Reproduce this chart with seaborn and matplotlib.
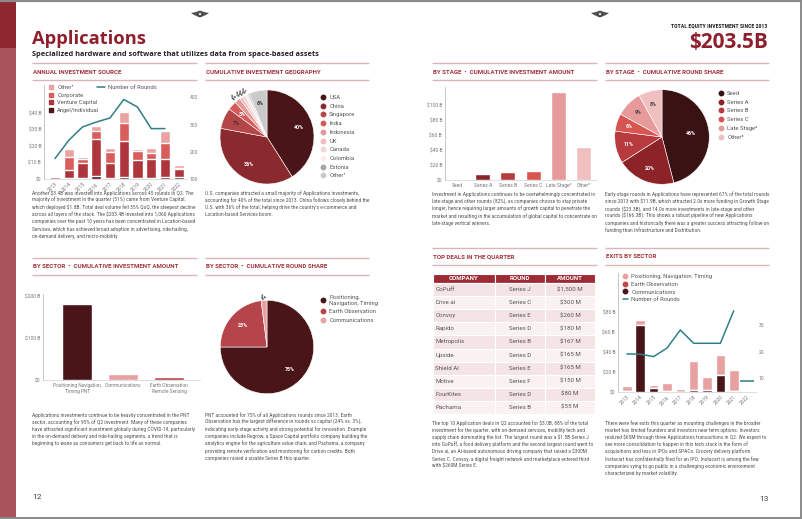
import numpy as np
import matplotlib
matplotlib.use("Agg")
import matplotlib.pyplot as plt
import seaborn as sns
from matplotlib import font_manager
from matplotlib.lines import Line2D
from matplotlib.patches import Rectangle, Circle, Polygon
from matplotlib.table import Table
from matplotlib.font_manager import FontProperties

# ── Data ────────────────────────────────────────────────────────────────────
years = ["2013", "2014", "2015", "2016", "2017", "2018", "2019", "2020", "2021", "2022"]
src_angel = [0.3, 0.4, 0.4, 2.0, 0.4, 1.4, 0.4, 0.4, 1.0, 1.4]
src_vc = [1.1, 5.0, 9.6, 22.0, 9.6, 21.8, 11.0, 12.0, 11.4, 4.6]
src_corporate = [0.0, 8.0, 2.4, 5.0, 6.4, 10.6, 5.4, 3.6, 9.6, 0.8]
src_other = [0.0, 4.6, 1.0, 3.4, 2.4, 7.0, 1.2, 3.0, 7.0, 1.6]
src_rounds = [175, 242, 291, 309, 324, 392, 364, 285, 285, np.nan]

geo_labels = ["USA", "China", "Singapore", "India", "Indonesia", "UK", "Canada",
              "Colombia", "Estonia", "Other¹"]
geo_share = [40, 36, 7, 3, 2, 1, 1, 1, 0.5, 6]

stages = ["Seed", "Series A", "Series B", "Series C", "Late Stage²", "Other³"]
stage_amount = [1.5, 8.5, 10.3, 12.5, 118, 45]
stage_round_share = [46, 20, 11, 6, 9, 8]

sectors = ["Positioning Navigation,\nTiming PNT", "Communications",
           "Earth Observation\nRemote Sensing"]
sector_amount = [182, 14, 7.5]
sector_round_labels = ["Positioning,\nNavigation, Timing", "Earth Observation", "Communications"]
sector_round_share = [75, 23, 2]

deal_company = ["GoPuff", "Drive.ai", "Convoy", "Rapido", "Metropolis", "Upside",
                "Shield AI", "Motive", "FourKites", "Pachama"]
deal_round = ["Series J", "Series C", "Series E", "Series D", "Series B", "Series D",
              "Series E", "Series F", "Series D", "Series B"]
deal_amount = ["$1,500 M", "$300 M", "$260 M", "$180 M", "$167 M", "$165 M",
               "$165 M", "$150 M", "$80 M", "$55 M"]

exit_pnt = [5.0, 5.3, 2.7, 8.3, 3.3, 29.3, 13.0, 20.6, 21.0, 0.0]
exit_eo = [0.5, 0.0, 0.0, 0.0, 0.0, 0.0, 0.0, 0.0, 0.0, 0.0]
exit_comm = [1.0, 66.7, 4.0, 1.0, 0.0, 1.7, 1.7, 16.7, 0.7, 0.7]
exit_rounds = [19.1, 19.0, 18.1, 21.3, 28.1, 23.1, 23.1, 23.1, 35.3, 8.8]

paragraphs = [
    (32, 194.5, 164, "Another $3.4B was invested into Applications across 45 rounds in Q2. The "
     "majority of investment in the quarter (51%) came from Venture Capital, which deployed "
     "$1.8B.  Total deal volume fell 35% QoQ, the steepest decline across all layers of the "
     "stack. The $203.4B invested into 1,060 Applications companies over the past 10 years has "
     "been concentrated in Location-based Services, which has achieved broad adoption in "
     "advertising, ride-hailing, on-demand delivery, and micro-mobility."),
    (205, 194.5, 165, "U.S. companies attracted a small majority of Applications investments, "
     "accounting for 40% of the total since 2013. China follows closely behind the U.S. with 36% "
     "of the total, helping drive the country's e-commerce and Location-based Services boom."),
    (432, 196, 165, "Investment in Applications continues to be overwhelmingly concentrated in "
     "late-stage and other rounds (82%), as companies choose to stay private longer, hence "
     "requiring larger amounts of growth capital to penetrate the market and resulting in the "
     "accumulation of global capital to concentrate on late-stage vertical winners."),
    (605, 196, 165, "Early-stage rounds in Applications have represented 67% of the total rounds "
     "since 2013 with $11.9B, which attracted 2.0x more funding in Growth Stage rounds ($23.3B), "
     "and 14.0x more investments in late-stage and other rounds ($166.3B). This shows a robust "
     "pipeline of new Applications companies and historically there was a greater success "
     "attracting follow-on funding than Infrastructure and Distribution."),
    (32, 416.5, 164, "Applications investments continue to be heavily concentrated in the PNT "
     "sector, accounting for 95% of Q2 investment. Many of these companies have attracted "
     "significant investment globally during COVID-19, particularly in the on-demand delivery and "
     "ride-hailing segments, a trend that is beginning to wane as consumers get back to life as normal."),
    (205, 416.5, 165, "PNT accounted for 75% of all Applications rounds since 2013. Earth "
     "Observation has the largest difference in rounds vs capital (24% vs. 3%), indicating "
     "early-stage activity and strong potential for innovation. Example companies include Regrow, "
     "a Space Capital portfolio company building the analytics engine for the agriculture value "
     "chain, and Pachama, a company providing remote verification and monitoring for carbon "
     "credits. Both companies raised a sizable Series B this quarter."),
    (432, 424.5, 165, "The top 10 Application deals in Q2 accounted for $3.0B, 88% of the total "
     "investment for the quarter, with on-demand services, mobility tech and supply chain "
     "dominating the list. The largest round was a $1.5B Series J into GoPuff, a food delivery "
     "platform and the second largest round went to Drive.ai, an AI-based autonomous driving "
     "company that raised a $300M Series C. Convoy, a digital freight network and marketplace "
     "entered third with $260M Series E."),
    (605, 424.5, 165, "There were few exits this quarter as mounting challenges in the broader "
     "market has limited founders and investors near term options. Investors realized $65M "
     "through three Applications transactions in Q2. We expect to see more consolidation to "
     "happen in this tech stack in the form of acquisitions and less in IPOs and SPACs. Grocery "
     "delivery platform Instacart has confidentially filed for an IPO. Instacart is among the few "
     "companies vying to go public in a challenging economic environment characterized by market "
     "volatility."),
]

# ── Palette ─────────────────────────────────────────────────────────────────
RED = "#8e1f2c"
HEAD = "#a3303c"
RULE = "#d8b6b9"
TEAL = "#2f7f86"
INK = "#555555"
TICK = "#777777"

sns.set_theme(style="white")
plt.rcParams["font.family"] = ["Roboto", "DejaVu Sans"]

installed = {f.name for f in font_manager.fontManager.ttflist}
BODY_FAMILY = next((f for f in ["Roboto Condensed", "Liberation Sans Narrow", "Roboto"]
                    if f in installed), "DejaVu Sans")

W, H = 802, 519
fig = plt.figure(figsize=(W / 100, H / 100), dpi=100, facecolor="white")
bg = fig.add_axes([0, 0, 1, 1])
bg.set_xlim(0, W)
bg.set_ylim(H, 0)
bg.axis("off")
renderer = fig.canvas.get_renderer()


def add_ax(x0, y0, x1, y1):
    return fig.add_axes([x0 / W, 1 - y1 / H, (x1 - x0) / W, (y1 - y0) / H])


def fpos(x, y):
    return (x / W, 1 - y / H)


def fit_size(s, family, weight, target, base=4.0):
    fp = FontProperties(family=family, weight=weight, size=base)
    return base * target / renderer.get_text_width_height_descent(s, fp, ismath=False)[0]


# size the body font so the reference's first line fills its column
BODY = FontProperties(family=BODY_FAMILY, size=fit_size(
    "Another $3.4B was invested into Applications across 45 rounds in Q2. The",
    BODY_FAMILY, "normal", 160))


def text_w(s):
    return renderer.get_text_width_height_descent(s, BODY, ismath=False)[0]


def paragraph(x, y, width, txt, pitch=7.2):
    lines, cur = [], []
    for w in txt.split():
        if cur and text_w(" ".join(cur + [w])) > width:
            lines.append(cur)
            cur = [w]
        else:
            cur.append(w)
    lines.append(cur)
    for i, ln in enumerate(lines):
        bg.text(x, y + i * pitch, " ".join(ln).replace("$", r"\$"), fontproperties=BODY,
                color=INK, va="baseline")


def style_axis(ax):
    sns.despine(ax=ax, top=True, right=True)
    ax.spines["left"].set_color("#bdbdbd")
    ax.spines["bottom"].set_color("#d0d0d0")
    ax.spines["left"].set_linewidth(0.6)
    ax.spines["bottom"].set_linewidth(0.5)
    ax.tick_params(length=0, labelsize=3.6, colors=TICK, pad=2)
    ax.set_xlabel("")
    ax.set_ylabel("")
    ax.set_facecolor("none")


def dot_legend(x, y, labels, colors, marker="o", ms=3.2, spacing=0.55, extra=None):
    handles = [Line2D([], [], ls="", marker=marker, color=c, markersize=ms) for c in colors]
    if extra:
        handles += extra[0]
        labels = labels + extra[1]
    fig.legend(handles, labels, loc="upper left", bbox_to_anchor=fpos(x, y), frameon=False,
               fontsize=4.2, labelcolor="#555", handlelength=0.8, handletextpad=0.6,
               labelspacing=spacing, borderpad=0, borderaxespad=0)


# ── Page furniture ──────────────────────────────────────────────────────────
bg.plot([0, W], [0.8, 0.8], color="#8a8a8a", lw=1.6)
bg.plot([0, W], [H - 1, H - 1], color="#8a8a8a", lw=1.4)
bg.plot([W - 1.2, W - 1.2], [0, H], color="#8a8a8a", lw=1.4)
bg.add_patch(Rectangle((0, 0), 16, 48, color="#8f2731", lw=0))
bg.add_patch(Rectangle((0, 48), 16, H - 49, color="#a9545c", lw=0))
for cx in (200, 600):
    bg.add_patch(Polygon([[cx - 9, 13], [cx - 2, 11.5], [cx - 2, 16.5], [cx - 6, 15]], color="#555", lw=0))
    bg.add_patch(Polygon([[cx + 9, 13], [cx + 2, 11.5], [cx + 2, 16.5], [cx + 6, 15]], color="#555", lw=0))
    bg.add_patch(Circle((cx, 14), 3.3, color="#444", lw=0))
    bg.add_patch(Circle((cx, 14), 1.3, color="#ddd", lw=0))

TITLE_FAMILY = "Open Sans" if "Open Sans" in installed else "DejaVu Sans"
bg.text(32, 43.5, "Applications", color=RED,
        fontsize=fit_size("Applications", TITLE_FAMILY, "bold", 112),
        fontweight="bold", family=TITLE_FAMILY, va="baseline")
sub = "Specialized hardware and software that utilizes data from space-based assets"
bg.text(32, 55.5, sub, color="#222", fontsize=fit_size(sub, TITLE_FAMILY, "bold", 282),
        fontweight="bold", family=TITLE_FAMILY, va="baseline")
kicker = "TOTAL EQUITY INVESTMENT SINCE 2013"
bg.text(767, 27, kicker, color="#222", fontsize=fit_size(kicker, BODY_FAMILY, "bold", 95),
        fontweight="bold", family=BODY_FAMILY, ha="right", va="baseline")
bg.text(768, 48.5, "$203.5B", color=RED,
        fontsize=fit_size("$203.5B", TITLE_FAMILY, "bold", 79),
        fontweight="bold", family=TITLE_FAMILY, ha="right", va="baseline")
bg.text(32, 499, "12", color="#444", fontsize=6, va="baseline")
bg.text(769, 501, "13", color="#444", fontsize=6, ha="right", va="baseline")

headers = [
    ("ANNUAL INVESTMENT SOURCE", 32, 197, 72),
    ("CUMULATIVE INVESTMENT GEOGRAPHY", 205, 369, 72),
    ("BY STAGE  •  CUMULATIVE INVESTMENT AMOUNT", 432, 597, 72),
    ("BY STAGE  •  CUMULATIVE ROUND SHARE", 605, 769, 72),
    ("BY SECTOR  •  CUMULATIVE INVESTMENT AMOUNT", 32, 197, 267),
    ("BY SECTOR  •  CUMULATIVE ROUND SHARE", 205, 369, 267),
    ("TOP DEALS IN THE QUARTER", 432, 597, 257),
    ("EXITS BY SECTOR", 605, 769, 257),
]
for label, x0, x1, yc in headers:
    bg.plot([x0, x1], [yc - 9, yc - 9], color=RULE, lw=1.0, solid_capstyle="butt")
    bg.plot([x0, x1], [yc + 8, yc + 8], color=RULE, lw=1.0, solid_capstyle="butt")
    bg.text(x0 + 1, yc, label, color=HEAD, fontsize=4.4, fontweight="bold", va="center")

for x, y, w, txt in paragraphs:
    paragraph(x, y, w, txt)

# ── Annual investment source ────────────────────────────────────────────────
SRC_COLORS = ["#4b1519", "#ae353c", "#d95d5a", "#e9a3a3"]
ax1 = add_ax(44, 85, 187, 179)
layers = np.cumsum([src_angel, src_vc, src_corporate, src_other], axis=0)
for cum, col in reversed(list(zip(layers, SRC_COLORS))):
    sns.barplot(x=years, y=cum, color=col, saturation=1, width=0.75, errorbar=None, ax=ax1)
ax1.set_xlim(-0.8, 9.6)
ax1.set_ylim(0, 57)
ax1.set_yticks([0, 10, 20, 30, 40])
ax1.set_yticklabels(["$0", "$10 B", "$20 B", "$30 B", "$40 B"])
style_axis(ax1)
plt.setp(ax1.get_xticklabels(), rotation=45, ha="right", rotation_mode="anchor")
ax1b = ax1.twinx()
sns.lineplot(x=np.arange(len(years)), y=src_rounds, color=TEAL, lw=1.1, ax=ax1b)
ax1b.set_ylim(100, 445)
ax1b.set_yticks([100, 200, 300, 400])
ax1b.tick_params(length=0, labelsize=3.6, colors=TICK, pad=2)
for s in ax1b.spines.values():
    s.set_visible(False)
ax1b.set_ylabel("")
dot_legend(49, 85, ["Other¹", "Corporate", "Venture Capital", "Angel/Individual"],
           SRC_COLORS[::-1], marker="s", ms=3.0, spacing=0.45)
fig.legend([Line2D([], [], color=TEAL, lw=1.1)], ["Number of Rounds"], loc="upper left",
           bbox_to_anchor=fpos(97, 85), frameon=False, fontsize=4.2, labelcolor="#555",
           handlelength=1.3, handletextpad=0.6, borderpad=0, borderaxespad=0)


# ── Pie helper ──────────────────────────────────────────────────────────────
def pie(cx, cy, r, values, colors, label_fmt):
    ax = add_ax(cx - 1.3 * r, cy - 1.3 * r, cx + 1.3 * r, cy + 1.3 * r)
    wedges, _ = ax.pie(values, colors=colors, startangle=90, counterclock=False,
                       wedgeprops=dict(edgecolor="white", linewidth=0.4))
    ax.set_xlim(-1.3, 1.3)
    ax.set_ylim(-1.3, 1.3)
    ax.set_aspect("equal")
    for w, v in zip(wedges, values):
        spec = label_fmt(v, w)
        if spec is None:
            continue
        rr, col = spec
        ang = np.deg2rad((w.theta1 + w.theta2) / 2)
        x, y = rr * np.cos(ang), rr * np.sin(ang)
        if rr > 1:
            rot = np.rad2deg(ang) - 180 if np.cos(ang) < 0 else np.rad2deg(ang)
            ax.text(x, y, f"{v:.0f}%", color=col, fontsize=3.6, fontweight="bold",
                    ha="center", va="center", rotation=rot * 0.5, clip_on=False)
        else:
            ax.text(x, y, f"{v:.0f}%", color=col, fontsize=3.8, fontweight="bold",
                    ha="center", va="center")
    return ax


GEO_COLORS = ["#4a1518", "#8b2a2e", "#b54648", "#d55b5b", "#e39a9a", "#efbdbd",
              "#f5d6d6", "#fbeded", "#a5a5a5", "#cacaca"]


def geo_fmt(v, w):
    if v >= 6 and w.get_facecolor()[0] > 0.7:
        return (0.72, "#333")
    if v >= 3:
        return (0.7, "white")
    if v >= 1:
        return (1.14, "#444")
    return None


pie(267, 137, 47, geo_share, GEO_COLORS, geo_fmt)
dot_legend(321, 95, geo_labels, GEO_COLORS, spacing=0.62)

# ── By stage amount ─────────────────────────────────────────────────────────
STAGE_COLORS = ["#3b1214", "#8b2328", "#b73a3e", "#d65550", "#e79a9a", "#f0c0c0"]
ax3 = add_ax(445, 87, 596, 180)
sns.barplot(x=stages, y=stage_amount, hue=stages, palette=STAGE_COLORS, legend=False,
            saturation=1, width=0.6, errorbar=None, ax=ax3)
ax3.set_xlim(-0.5, 5.5)
ax3.set_ylim(0, 125)
ax3.set_yticks([0, 20, 40, 60, 80, 100])
ax3.set_yticklabels(["$0", "$20 B", "$40 B", "$60 B", "$80 B", "$100 B"])
style_axis(ax3)


def stage_fmt(v, w):
    light = w.get_facecolor()[1] > 0.5
    return (0.72 if v < 40 else 0.62, "#444" if light else "white")


pie(662, 137, 47.3, stage_round_share, STAGE_COLORS, stage_fmt)
dot_legend(719, 91, stages, STAGE_COLORS, spacing=0.62)

# ── By sector amount ────────────────────────────────────────────────────────
SECTOR_COLORS = ["#4a1518", "#e8a0a0", "#b5454a"]
ax5 = add_ax(43, 294, 200, 380)
sns.barplot(x=sectors, y=sector_amount, hue=sectors, palette=SECTOR_COLORS, legend=False,
            saturation=1, width=0.65, errorbar=None, ax=ax5)
ax5.set_xlim(-0.74, 2.67)
ax5.set_ylim(0, 205)
ax5.set_yticks([0, 100, 200])
ax5.set_yticklabels(["$0", "$100 B", "$200 B"])
style_axis(ax5)
ax5.tick_params(axis="x", labelsize=3.4)

SECTOR_PIE_COLORS = ["#4a1518", "#b5454a", "#e8a0a0"]


def sector_fmt(v, w):
    if v < 5:
        return (1.12, "#444")
    return (0.68, "white")


pie(267, 347, 46.7, sector_round_share, SECTOR_PIE_COLORS, sector_fmt)
dot_legend(321, 295, sector_round_labels, SECTOR_PIE_COLORS, spacing=0.6)

# ── Top deals table ─────────────────────────────────────────────────────────
axt = add_ax(433, 274, 595, 414)
axt.axis("off")
tbl = Table(axt, bbox=[0, 0, 1, 1])
col_w = [62, 50, 50]
for c, name in enumerate(["COMPANY", "ROUND", "AMOUNT"]):
    cell = tbl.add_cell(0, c, width=col_w[c], height=9, text=name, loc="center",
                        facecolor="#9e2a35", edgecolor="white")
    cell.get_text().set_color("white")
    cell.get_text().set_fontweight("bold")
for r, row in enumerate(zip(deal_company, deal_round, deal_amount)):
    for c, val in enumerate(row):
        cell = tbl.add_cell(r + 1, c, width=col_w[c], height=13.1, text=val,
                            loc="left" if c == 0 else "center",
                            facecolor="#f4e4e5" if r % 2 == 0 else "#faf2f2",
                            edgecolor="white")
        cell.get_text().set_color("#555")
        if c == 0:
            cell.PAD = 0.04
for cell in tbl.get_celld().values():
    cell.set_linewidth(0.8)
tbl.auto_set_font_size(False)
tbl.set_fontsize(4.4)
axt.add_table(tbl)

# ── Exits by sector ─────────────────────────────────────────────────────────
EXIT_COLORS = ["#4a1518", "#c0474a", "#e8a0a0"]
ax8 = add_ax(618, 273, 756, 392)
exit_layers = np.cumsum([exit_comm, exit_eo, exit_pnt], axis=0)
for cum, col in reversed(list(zip(exit_layers, EXIT_COLORS))):
    sns.barplot(x=years, y=cum, color=col, saturation=1, width=0.72, errorbar=None, ax=ax8)
ax8.set_xlim(-0.67, 9.67)
ax8.set_ylim(0, 119)
ax8.set_yticks([0, 20, 40, 60, 80])
ax8.set_yticklabels(["$0", "$20 B", "$40 B", "$60 B", "$80 B"])
style_axis(ax8)
plt.setp(ax8.get_xticklabels(), rotation=45, ha="right", rotation_mode="anchor")
ax8b = ax8.twinx()
idx = np.arange(len(years))
sns.lineplot(x=idx[:9], y=exit_rounds[:9], color=TEAL, lw=1.1, ax=ax8b)
ax8b.plot(idx[9:], exit_rounds[9:], ls="", marker="_", ms=10, mew=1.1, color=TEAL)
ax8b.set_ylim(4.8, 49.5)
ax8b.set_yticks([10, 20, 30])
ax8b.tick_params(length=0, labelsize=3.6, colors=TICK, pad=2)
for s in ax8b.spines.values():
    s.set_visible(False)
ax8b.set_ylabel("")
dot_legend(623, 274, ["Positioning, Navigation, Timing", "Earth Observation", "Communications"],
           EXIT_COLORS[::-1], spacing=0.45,
           extra=([Line2D([], [], color=TEAL, lw=1.1)], ["Number of Rounds"]))

fig.savefig("out.png", dpi=100, facecolor="white")
